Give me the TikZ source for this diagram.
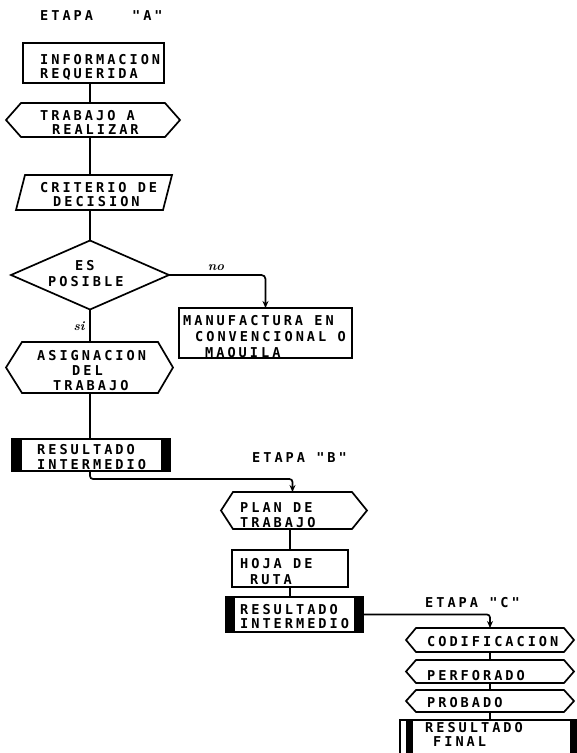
\documentclass[tikz,border=0pt]{standalone}
\usepackage{fontspec}
\usetikzlibrary{shapes.geometric,arrows.meta}
\newfontfamily\plotfont{DejaVu Sans Mono Bold}[LetterSpace=22]
\newcommand\hexout[3]{\draw[ln] ([xshift=-#2pt]#1.west) -- (#1.north west) -- (#1.north east) -- ([xshift=#3pt]#1.east) -- (#1.south east) -- (#1.south west) -- cycle;}
\begin{document}
\begin{tikzpicture}[x=1pt,y=-1pt,
  ln/.style={line width=1.7pt},
  box/.style={draw, rectangle, line width=1.7pt, inner sep=0pt, outer sep=0pt},
  frame/.style={rectangle, inner sep=0pt, outer sep=0pt},
  txt/.style={font=\plotfont\fontsize{13.6}{#1}\selectfont, align=left, anchor=north west, inner sep=0pt},
  txt/.default=14,
  lab/.style={font=\bfseries\itshape\fontsize{13}{14}\selectfont, inner sep=0pt},
  arr/.style={-{Stealth[length=7pt,width=6pt]}}]
\useasboundingbox (0,0) rectangle (577,753);

% ---- Etapa A ----
\node[txt] (tA) at (40,10) {ETAPA\hspace*{39pt}"A"};

\node[box, minimum width=141pt, minimum height=40pt] (A) at (93.5,63) {};
\node[txt=14] (tA1) at (40,54.5) {INFORMACION\\REQUERIDA};

\node[frame, minimum width=144pt, minimum height=34pt] (B) at (93,120) {};
\hexout{B}{15}{15}
\node[txt=14] (tB) at (40,110) {TRABAJO A\\\hspace*{12pt}REALIZAR};

\node[frame, minimum width=147pt, minimum height=35pt] (C) at (94,192.5) {};
\draw[ln] ([xshift=4.5pt]C.north west) -- ([xshift=4.5pt]C.north east) -- ([xshift=-4.5pt]C.south east) -- ([xshift=-4.5pt]C.south west) -- cycle;
\node[txt=14] (tC) at (40,182) {CRITERIO DE\\\hspace*{13pt}DECISION};

\node[draw, diamond, line width=1.7pt, inner sep=0pt, outer sep=0pt, minimum width=158pt, minimum height=69pt] (D) at (90,275) {};
\node[txt=16] (tD) at (48,260) {\hspace*{27pt}ES\\POSIBLE};

\node[box, minimum width=173pt, minimum height=50pt] (E) at (265.5,333) {};
\node[txt=16] (tE) at (183,315) {MANUFACTURA EN\\\hspace*{12pt}CONVENCIONAL O\\\hspace*{22pt}MAQUILA};

\node[lab] (no) at (216,268) {no};
\node[lab] (si) at (79,326) {si};

\node[frame, minimum width=136pt, minimum height=51pt] (F) at (90,367.5) {};
\hexout{F}{16}{15}
\node[txt=15] (tF) at (37,350) {ASIGNACION\\\hspace*{35pt}DEL\\\hspace*{16pt}TRABAJO};

\node[box, minimum width=158pt, minimum height=32pt] (G) at (91,455) {};
\fill (G.north west) rectangle ([xshift=10pt]G.south west);
\fill ([xshift=-9pt]G.north east) rectangle (G.south east);
\node[txt=15] (tG) at (37,444.5) {RESULTADO\\INTERMEDIO};

% ---- Etapa B ----
\node[txt] (tEB) at (252,452) {ETAPA "B"};

\node[frame, minimum width=119pt, minimum height=37pt] (H) at (292.5,510.5) {};
\hexout{H}{12}{15}
\node[txt=15] (tH) at (240,502) {PLAN DE\\TRABAJO};

\node[box, minimum width=116pt, minimum height=37pt] (I) at (290,568.5) {};
\node[txt=16] (tI) at (240,558) {HOJA DE\\\hspace*{10pt}RUTA};

\node[box, minimum width=137pt, minimum height=35pt] (J) at (294.5,614.5) {};
\fill (J.north west) rectangle ([xshift=9pt]J.south west);
\fill ([xshift=-9pt]J.north east) rectangle (J.south east);
\node[txt=14] (tJ) at (240,604.5) {RESULTADO\\INTERMEDIO};

% ---- Etapa C ----
\node[txt] (tEC) at (425,597) {ETAPA "C"};

\node[frame, minimum width=148pt, minimum height=24pt] (K) at (490,640) {};
\hexout{K}{10}{10}
\node[txt] (tK) at (427,636) {CODIFICACION};

\node[frame, minimum width=148pt, minimum height=23pt] (L) at (490,671.5) {};
\hexout{L}{10}{10}
\node[txt] (tL) at (427,670) {PERFORADO};

\node[frame, minimum width=148pt, minimum height=22pt] (M) at (490,701) {};
\hexout{M}{10}{10}
\node[txt] (tM) at (427,697) {PROBADO};

\node[box, minimum width=190pt, minimum height=50pt] (N) at (495,745) {};
\fill ([xshift=6pt]N.north west) rectangle ([xshift=13pt]N.south west);
\fill ([xshift=-20pt]N.north east) rectangle ([xshift=-13pt]N.south east);
\node[txt=14] (tN) at (425,722) {RESULTADO\\\hspace*{8pt}FINAL};

% ---- connectors ----
\draw[ln] (A.south -| D.north) -- (B.north -| D.north);
\draw[ln] (B.south -| D.north) -- (C.north -| D.north);
\draw[ln] (C.south -| D.north) -- (D.north);
\draw[ln, arr, rounded corners=4pt] (D.east) -- (D.east -| E.north) -- (E.north);
\draw[ln] (D.south) -- (F.north -| D.south);
\draw[ln] (F.south -| D.south) -- (G.north -| D.south);
\draw[ln, arr, rounded corners=3pt] (G.south -| D.south) -- ++(0,8) -| (H.north);
\draw[ln] (H.south -| I.north) -- (I.north);
\draw[ln] (I.south) -- (J.north -| I.south);
\draw[ln, arr, rounded corners=3pt] (J.east) -| (K.north);
\draw[ln] (K.south) -- (L.north);
\draw[ln] (L.south) -- (M.north);
\draw[ln] (M.south) -- (N.north -| M.south);
\end{tikzpicture}
\end{document}
